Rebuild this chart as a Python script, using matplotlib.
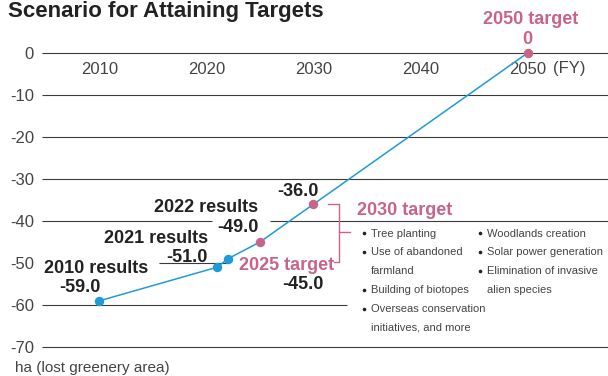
import matplotlib
matplotlib.use("Agg")
import matplotlib.pyplot as plt

plt.rcParams["font.family"] = ["Liberation Sans", "DejaVu Sans"]

# ---- data ----
years = [2010, 2021, 2022, 2025, 2030, 2050]
values = [-59.0, -51.0, -49.0, -45.0, -36.0, 0.0]
kinds = ["result", "result", "result", "target", "target", "target"]
y_ticks = [0, -10, -20, -30, -40, -50, -60, -70]
x_ticks = [2010, 2020, 2030, 2040, 2050]
measures_left = ["Tree planting", "Use of abandoned\nfarmland", "Building of biotopes",
                 "Overseas conservation\ninitiatives, and more"]
measures_right = ["Woodlands creation", "Solar power generation",
                  "Elimination of invasive\nalien species"]

BLUE = "#1f9bd8"
PINK = "#c8648a"
DARK = "#222222"
GREY = "#444444"
GRID = "#3a3a3a"

fig = plt.figure(figsize=(6.08, 3.76), dpi=100)
ax = fig.add_axes([42 / 608, 29 / 376, 566 / 608, 294 / 376])
x0, x1 = 2004.63, 2057.52
ax.set_xlim(x0, x1)
ax.set_ylim(-70, 0)
for s in ax.spines.values():
    s.set_visible(False)
ax.spines["bottom"].set_position(("data", 0))

ax.set_yticks(y_ticks)
ax.set_yticklabels([str(v) for v in y_ticks])
ax.set_xticks(x_ticks)
ax.set_xticklabels([str(v) for v in x_ticks])
ax.tick_params(axis="y", length=0, pad=5.8, labelsize=12, labelcolor=GREY)
ax.tick_params(axis="x", length=0, pad=6.5, labelsize=12, labelcolor=GREY)

# horizontal rules, interrupted where the annotations sit
rule_spans = {
    0: [(x0, x1)], -10: [(x0, x1)], -20: [(x0, x1)], -30: [(x0, x1)],
    -40: [(x0, 2020.5), (2025.9, x1)],
    -50: [(2015.6, 2022.0)],
    -60: [(x0, 2033.1)],
    -70: [(x0, x1)],
}
for yv, spans in rule_spans.items():
    for a, b in spans:
        ax.plot([a, b], [yv, yv], color=GRID, lw=0.8, zorder=1, clip_on=False,
                solid_capstyle="butt")

# trajectory line and markers
ax.plot(years, values, color=BLUE, lw=1.1, zorder=4, clip_on=False)
for yr, v, k in zip(years, values, kinds):
    ax.plot(yr, v, "o", ms=6.8, color=BLUE if k == "result" else PINK,
            mec="none", zorder=5, clip_on=False)

lab = dict(fontsize=13, fontweight="bold", va="baseline")


def fmt(v):
    return f"{v:.1f}"


# results
ax.text(2009.72, -52.3, f"{years[0]} results", color=DARK, ha="center", **lab)
ax.text(2008.2, -56.8, fmt(values[0]), color=DARK, ha="center", **lab)
ax.text(2015.33, -45.3, f"{years[1]} results", color=DARK, ha="center", **lab)
ax.text(2018.22, -49.7, fmt(values[1]), color=DARK, ha="center", **lab)
ax.text(2020.0, -37.9, f"{years[2]} results", color=DARK, ha="center", **lab)
ax.text(2022.9, -42.6, fmt(values[2]), color=DARK, ha="center", **lab)

# targets
ax.text(2023.04, -51.7, f"{years[3]} target", color=PINK, ha="left", **lab)
ax.text(2028.97, -56.3, fmt(values[3]), color=DARK, ha="center", **lab)
ax.text(2028.55, -34.0, fmt(values[4]), color=DARK, ha="center", **lab)
ax.text(2034.07, -38.6, f"{years[4]} target", color=PINK, ha="left", **lab)
ax.text(2050.25, 6.9, f"{years[5]} target", color=PINK, ha="center", **lab)
ax.text(2050.0, 2.07, f"{values[5]:.0f}", color=PINK, ha="center", **lab)

ax.text(2052.35, -4.69, "(FY)", color=GREY, fontsize=12, va="baseline", ha="left")

# bracket joining the 2025/2030 targets to the list of measures
bx = 2032.41
ax.plot([2031.36, bx, bx, 2031.95], [-36.0, -36.0, -49.8, -49.8],
        color=PINK, lw=1.0, zorder=3, clip_on=False)
ax.plot([bx, 2033.45], [-42.5, -42.5], color=PINK, lw=1.0, zorder=3, clip_on=False)

# list of measures
line_step = 4.48
first_base = -43.7


def draw_list(items, bullet_x, text_x):
    row = 0
    for item in items:
        lines = item.split("\n")
        ax.plot(bullet_x, first_base - row * line_step + 0.75, "o", ms=2.6,
                color=DARK, mec="none", zorder=3, clip_on=False)
        for ln in lines:
            ax.text(text_x, first_base - row * line_step, ln, color=GREY,
                    fontsize=8, va="baseline", ha="left")
            row += 1


draw_list(measures_left, 2034.7, 2035.35)
draw_list(measures_right, 2045.6, 2046.2)

fig.text(8 / 608, 1 - 1 / 376, "Scenario for Attaining Targets", fontsize=16,
         fontweight="bold", color=DARK, va="top", ha="left")
fig.text(15 / 608, 4 / 376, "ha (lost greenery area)", fontsize=11, color=GREY,
         va="baseline", ha="left")

fig.savefig("out.png", dpi=100)
